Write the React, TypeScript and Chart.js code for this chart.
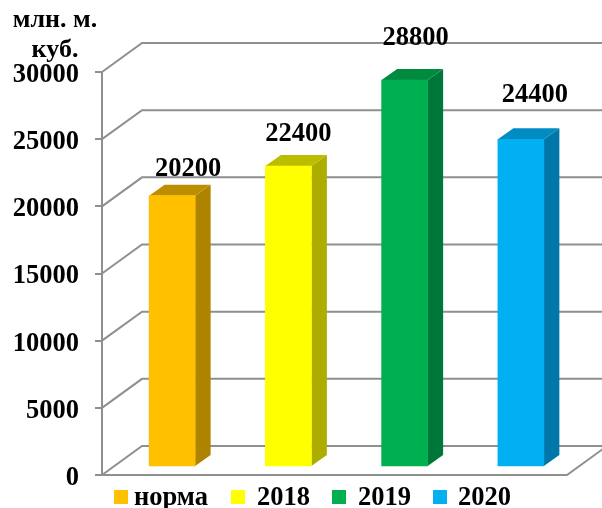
import React, { useEffect, useRef } from "react";
import { Chart, registerables } from "chart.js";

Chart.register(...registerables);

const categories = ["норма", "2018", "2019", "2020"];
const values = [20200, 22400, 28800, 24400];
const frontColors = ["#FFC000", "#FFFF00", "#00B050", "#00B0F0"];
const sideColors = ["#AD8300", "#ADAD00", "#00773A", "#0077A8"];
const topColors = ["#BD8F00", "#BDBD00", "#008A40", "#008CC2"];
const yTicks = [0, 5000, 10000, 15000, 20000, 25000, 30000];
const unitLines = ["млн. м.", "куб."];
const labelLifts = [26, 32, 42, 44];
const labelShifts = [16, 10, 11, 14];
const legendBoxX = [114, 231, 332, 433];
const legendTextX = [134, 257, 358, 458];

const SERIF = '"Liberation Serif", "Times New Roman", serif';
const GRID = "#8f8f8f";
const WALL_DX = 40;
const WALL_DY = -29;
const BAR_DX = 12;
const BAR_DY = -8;
const DEPTH_DX = 15.5;
const DEPTH_DY = -11;

const poly = (ctx: CanvasRenderingContext2D, pts: number[][], fill: string) => {
  ctx.beginPath();
  pts.forEach(([x, y], i) => (i ? ctx.lineTo(x, y) : ctx.moveTo(x, y)));
  ctx.closePath();
  ctx.fillStyle = fill;
  ctx.fill();
};

const scene3d = {
  id: "scene3d",
  beforeDatasetsDraw(chart: any) {
    const { ctx, chartArea: a, scales } = chart;
    ctx.save();
    ctx.strokeStyle = GRID;
    ctx.lineWidth = 2;
    yTicks.forEach((v) => {
      const y = scales.y.getPixelForValue(v);
      ctx.beginPath();
      ctx.moveTo(a.left, y);
      ctx.lineTo(a.left + WALL_DX, y + WALL_DY);
      ctx.lineTo(602, y + WALL_DY);
      ctx.stroke();
    });
    ctx.beginPath();
    ctx.moveTo(a.left, a.bottom);
    ctx.lineTo(a.right, a.bottom);
    ctx.lineTo(a.right + WALL_DX, a.bottom + WALL_DY);
    ctx.stroke();
    ctx.restore();
  },
  beforeDatasetDraw(chart: any, args: any) {
    const { ctx } = chart;
    ctx.save();
    ctx.translate(BAR_DX, BAR_DY);
    args.meta.data.forEach((bar: any, i: number) => {
      const l = bar.x - bar.width / 2;
      const r = bar.x + bar.width / 2;
      poly(ctx, [[r, bar.y], [r + DEPTH_DX, bar.y + DEPTH_DY], [r + DEPTH_DX, bar.base + DEPTH_DY], [r, bar.base]], sideColors[i]);
      poly(ctx, [[l, bar.y], [l + DEPTH_DX, bar.y + DEPTH_DY], [r + DEPTH_DX, bar.y + DEPTH_DY], [r, bar.y]], topColors[i]);
    });
  },
  afterDatasetDraw(chart: any) {
    chart.ctx.restore();
  },
  afterDraw(chart: any) {
    const { ctx, scales } = chart;
    const meta = chart.getDatasetMeta(0);
    ctx.save();
    ctx.fillStyle = "#000";
    ctx.textAlign = "center";
    ctx.textBaseline = "middle";
    ctx.font = `bold 26.5px ${SERIF}`;
    values.forEach((v, i) => {
      ctx.fillText(String(v), meta.data[i].x + BAR_DX + labelShifts[i], scales.y.getPixelForValue(v) + BAR_DY - labelLifts[i]);
    });
    ctx.font = `bold 26px ${SERIF}`;
    ctx.fillText(unitLines[0], 55, 20);
    ctx.fillText(unitLines[1], 55, 50);
    ctx.textAlign = "left";
    ctx.font = `bold 26.5px ${SERIF}`;
    categories.forEach((c, i) => {
      ctx.fillStyle = frontColors[i];
      ctx.fillRect(legendBoxX[i], 490, 14, 14);
      ctx.fillStyle = "#000";
      ctx.fillText(c, legendTextX[i], 498);
    });
    ctx.restore();
  },
};

export default function App() {
  const ref = useRef<HTMLCanvasElement>(null);
  useEffect(() => {
    const chart = new Chart(ref.current!, {
      type: "bar",
      data: {
        labels: categories,
        datasets: [
          {
            data: values,
            backgroundColor: frontColors,
            borderWidth: 0,
            barThickness: 46,
            clip: false,
          } as any,
        ],
      },
      options: {
        responsive: false,
        animation: false,
        layout: { padding: { top: 72, bottom: 33, right: 35, left: 0 } },
        plugins: { legend: { display: false }, title: { display: false }, tooltip: { enabled: false } },
        scales: {
          x: { display: false },
          y: {
            min: 0,
            max: 30000,
            afterFit: (s: any) => {
              s.width = 102;
            },
            afterBuildTicks: (s: any) => {
              s.ticks = yTicks.map((value) => ({ value }));
            },
            border: { color: GRID, width: 2 },
            grid: { drawOnChartArea: false, drawTicks: true, tickLength: 7, color: GRID, lineWidth: 2 },
            ticks: {
              color: "#000",
              padding: 16,
              labelOffset: 3,
              font: { family: SERIF, size: 26.5, weight: "bold" },
              callback: (v: any) => String(v),
            },
          },
        },
      },
      plugins: [scene3d],
    } as any);
    return () => chart.destroy();
  }, []);
  return (
    <canvas
      ref={ref}
      width={602}
      height={508}
      style={{ position: "fixed", left: 0, top: 0, width: 602, height: 508, background: "#fff" }}
    />
  );
}
